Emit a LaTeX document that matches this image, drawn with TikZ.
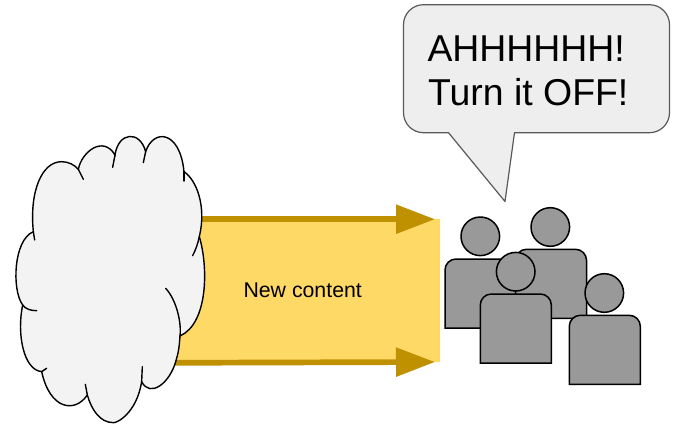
\documentclass[tikz,border=0pt]{standalone}
\usepackage{fontspec}
\setmainfont{Liberation Sans}
\usetikzlibrary{arrows.meta}
\definecolor{cloudfill}{HTML}{F3F3F3}
\definecolor{bandfill}{HTML}{FFD966}
\definecolor{arrowcol}{HTML}{BF9000}
\definecolor{bubblefill}{HTML}{EEEEEE}
\definecolor{bubbleline}{HTML}{595959}
\definecolor{persongray}{HTML}{999999}
\tikzset{
  flowarrow/.style={draw=arrowcol,line width=5.7pt,-{Triangle[length=39pt,width=28pt,fill=arrowcol]}},
  cloudline/.style={draw=black,line width=1.4pt,line cap=round},
  head/.style={circle,draw=black,fill=persongray,line width=1.5pt,minimum size=38.6pt,inner sep=0pt},
  torso/.style={draw=black,fill=persongray,line width=1.5pt},
}
\newcommand{\personbody}[2]{% left x, top y in pixel units; width 71, height 69
  \path[torso] (#1,#2+69) -- (#1,#2+30) [rounded corners=11pt] -- (#1,#2) -- (#1+71,#2) -- (#1+71,#2+30) [sharp corners] -- (#1+71,#2+69) -- cycle;
}
\begin{document}
\begin{tikzpicture}[x=1pt,y=-1pt]
\useasboundingbox (0,0) rectangle (675,426);
% band
\node[fill=bandfill,inner sep=0pt,minimum width=269.5pt,minimum height=143pt,anchor=north west] (band) at (170,219) {};
\node[anchor=base west,inner sep=0pt,font=\fontsize{21.3}{25}\selectfont] (label) at (243.3,297.5) {New content};
% arrows
\coordinate (t0) at (190,219.2);
\coordinate (t1) at (435,219.2);
\coordinate (b0) at (170,362.8);
\coordinate (b1) at (435,362);
\draw[flowarrow] (t0) -- (t1);
\draw[flowarrow] (b0) -- (b1);
% cloud
\begin{scope}[shift={(0,120)},x=0.3333pt,y=-0.3333pt]
\path[cloudline,fill=cloudfill]
 (100,335) .. controls (88,215) and (125,125) .. (185,125)
 .. controls (205,125) and (225,135) .. (235,148)
 .. controls (245,95) and (310,45) .. (345,105)
 .. controls (355,35) and (420,30) .. (437,95)
 .. controls (460,25) and (540,30) .. (552,155)
 .. controls (590,180) and (620,260) .. (598,350)
 .. controls (625,440) and (625,610) .. (540,648)
 .. controls (538,680) and (535,700) .. (528,722)
 .. controls (510,790) and (450,835) .. (425,785)
 .. controls (410,880) and (350,910) .. (340,908)
 .. controls (300,908) and (275,870) .. (262,825)
 .. controls (225,880) and (150,870) .. (125,755)
 .. controls (70,750) and (50,640) .. (68,555)
 .. controls (35,510) and (40,360) .. (100,335) -- cycle;
\draw[cloudline] (235,148) -- (250,178);
\draw[cloudline] (345,105) -- (338,142);
\draw[cloudline] (437,95) -- (430,128);
\draw[cloudline] (552,155) -- (552,183);
\draw[cloudline] (598,350) .. controls (594,370) and (587,390) .. (578,407);
\draw[cloudline] (497,505) .. controls (530,540) and (545,610) .. (540,648);
\draw[cloudline] (425,785) -- (427,740);
\draw[cloudline] (262,825) -- (256,793);
\draw[cloudline] (125,755) -- (140,745);
\draw[cloudline] (68,555) .. controls (78,568) and (92,572) .. (110,572);
\draw[cloudline] (100,335) -- (104,360);
\end{scope}
% bubble
\path[draw=bubbleline,fill=bubblefill,line width=1.2pt,line join=round]
 (514.5,132.7) -- (505,201.5) -- (448.5,132.7) -- (430,132.7) [rounded corners=20pt] -- (403.5,132.7) -- (403.5,4.7) -- (669.5,4.7) -- (669.5,132.7) -- (600,132.7) [sharp corners] -- cycle;
\node[anchor=base west,inner sep=0pt,font=\fontsize{37.4}{44}\selectfont] (shout1) at (427.3,61) {AHHHHHH!};
\node[anchor=base west,inner sep=0pt,font=\fontsize{37.4}{44}\selectfont] (shout2) at (428,105) {Turn it OFF!};
% people
\personbody{445}{259}
\node[head] (headA) at (480.3,236.3) {};
\personbody{515.5}{249.3}
\node[head] (headB) at (550.3,227) {};
\node[head] (headC) at (515.7,271.7) {};
\personbody{480.3}{294}
\node[head] (headD) at (604.3,293) {};
\personbody{569.3}{315.3}
\end{tikzpicture}
\end{document}
